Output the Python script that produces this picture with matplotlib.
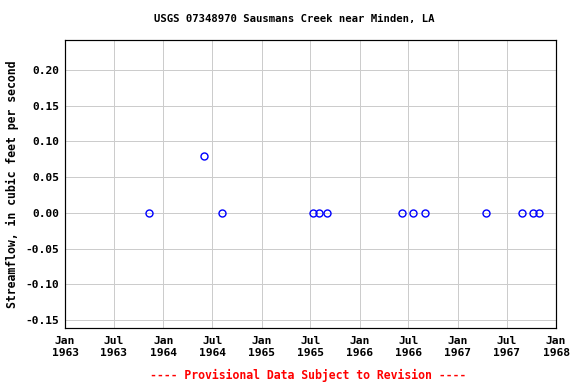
import matplotlib
matplotlib.use('Agg')
import matplotlib.pyplot as plt
from datetime import datetime

# measurement dates and streamflow (cfs)
dates = ['1963-11-10', '1964-06-01', '1964-08-08', '1965-07-10', '1965-08-01',
         '1965-08-31', '1966-06-08', '1966-07-18', '1966-09-01', '1967-04-14',
         '1967-08-27', '1967-10-08', '1967-10-28']
flow = [0.0, 0.08, 0.0, 0.0, 0.0, 0.0, 0.0, 0.0, 0.0, 0.0, 0.0, 0.0, 0.0]

tick_dates = ['1963-01-01', '1963-07-01', '1964-01-01', '1964-07-01', '1965-01-01',
              '1965-07-01', '1966-01-01', '1966-07-01', '1967-01-01', '1967-07-01',
              '1968-01-01']
tick_labels = ['Jan\n1963', 'Jul\n1963', 'Jan\n1964', 'Jul\n1964', 'Jan\n1965',
               'Jul\n1965', 'Jan\n1966', 'Jul\n1966', 'Jan\n1967', 'Jul\n1967',
               'Jan\n1968']
y_ticks = [-0.15, -0.10, -0.05, 0.00, 0.05, 0.10, 0.15, 0.20]

plt.rcParams['font.family'] = 'DejaVu Sans Mono'
plt.rcParams['font.weight'] = 'bold'

fig = plt.figure(figsize=(8, 384 / 72), dpi=72)
ax = fig.add_axes([65 / 576, 1 - 328 / 384, (556 - 65) / 576, (328 - 40) / 384])

x = [datetime.strptime(d, '%Y-%m-%d') for d in dates]
ax.plot(x, flow, linestyle='none', marker='o', markersize=7,
        markerfacecolor='none', markeredgecolor='#0000ff', markeredgewidth=1.4,
        zorder=3)

xt = [datetime.strptime(d, '%Y-%m-%d') for d in tick_dates]
ax.set_xticks(xt)
ax.set_xticklabels(tick_labels, fontsize=11.3, fontweight='bold', linespacing=1.25)
ax.set_xlim(xt[0], xt[-1])
ax.set_yticks(y_ticks)
ax.set_yticklabels(['%.2f' % v for v in y_ticks], fontsize=11.3, fontweight='bold')
ax.set_ylim(-0.161, 0.242)
ax.tick_params(axis='x', length=0, pad=8)
ax.tick_params(axis='y', length=0, pad=6)
ax.grid(True, color='#cccccc', linewidth=1)
ax.set_axisbelow(True)
for s in ax.spines.values():
    s.set_linewidth(1.2)

fig.text(294 / 576, 1 - 19 / 384, 'USGS 07348970 Sausmans Creek near Minden, LA',
         fontsize=10.6, fontweight='bold', ha='center', va='center')
ax.set_ylabel('Streamflow, in cubic feet per second', fontsize=11.5,
              fontweight='bold', labelpad=6)
fig.text(308 / 576, 1 - 375 / 384, '---- Provisional Data Subject to Revision ----',
         color='red', fontsize=11.5, fontweight='bold', ha='center', va='center')

fig.savefig('out.png', dpi=72)
